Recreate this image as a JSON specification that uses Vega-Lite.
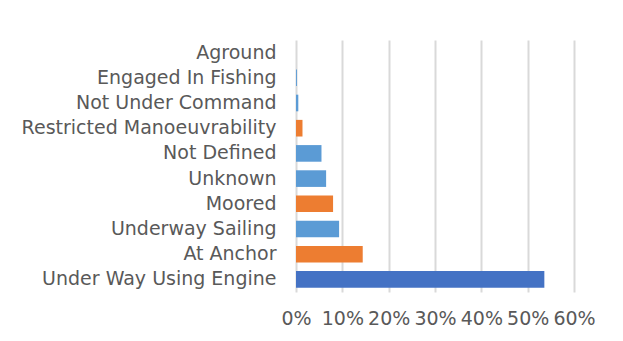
{
  "$schema": "https://vega.github.io/schema/vega-lite/v6.json",
  "autosize": {"type": "none"},
  "padding": {"left": 296, "top": 40, "right": 49, "bottom": 49},
  "width": 278,
  "height": 252,
  "background": "#ffffff",
  "config": {
    "view": {"stroke": null},
    "font": "DejaVu Sans"
  },
  "data": {
    "values": [
      {"status": "Under Way Using Engine", "share": 0.536, "group": "Engine"},
      {"status": "At Anchor", "share": 0.144, "group": "Stationary"},
      {"status": "Underway Sailing", "share": 0.093, "group": "Other"},
      {"status": "Moored", "share": 0.080, "group": "Stationary"},
      {"status": "Unknown", "share": 0.065, "group": "Other"},
      {"status": "Not Defined", "share": 0.055, "group": "Other"},
      {"status": "Restricted Manoeuvrability", "share": 0.014, "group": "Stationary"},
      {"status": "Not Under Command", "share": 0.005, "group": "Other"},
      {"status": "Engaged In Fishing", "share": 0.002, "group": "Other"},
      {"status": "Aground", "share": 0.0, "group": "Other"}
    ]
  },
  "mark": {"type": "bar"},
  "encoding": {
    "y": {
      "field": "status",
      "type": "nominal",
      "sort": ["Aground", "Engaged In Fishing", "Not Under Command", "Restricted Manoeuvrability", "Not Defined", "Unknown", "Moored", "Underway Sailing", "At Anchor", "Under Way Using Engine"],
      "scale": {"paddingInner": 0.34, "paddingOuter": 0.17},
      "axis": {
        "title": null,
        "ticks": false,
        "domain": false,
        "grid": false,
        "labelPadding": 20,
        "labelFontSize": 19,
        "labelColor": "#595959",
        "labelFont": "DejaVu Sans",
        "labelLimit": 400
      }
    },
    "x": {
      "field": "share",
      "type": "quantitative",
      "scale": {"domain": [0, 0.6], "nice": false},
      "axis": {
        "title": null,
        "format": ".0%",
        "values": [0, 0.1, 0.2, 0.3, 0.4, 0.5, 0.6],
        "ticks": false,
        "domain": false,
        "grid": true,
        "gridColor": "#d9d9d9",
        "gridWidth": 2,
        "labelPadding": 17,
        "labelFontSize": 19,
        "labelColor": "#595959",
        "labelFont": "DejaVu Sans",
        "labelFlush": false,
        "labelOverlap": false
      }
    },
    "color": {
      "field": "group",
      "type": "nominal",
      "scale": {"domain": ["Engine", "Stationary", "Other"], "range": ["#4472C4", "#ED7D31", "#5B9BD5"]},
      "legend": null
    }
  }
}
